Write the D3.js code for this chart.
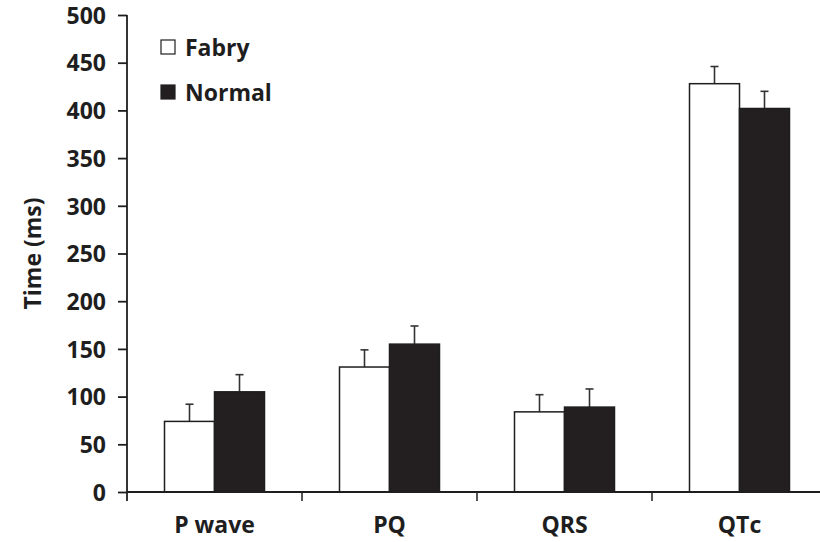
<!DOCTYPE html>
<html>
<head>
<meta charset="utf-8">
<script src="https://cdn.jsdelivr.net/npm/d3@7"></script>
<style>
  body { margin: 0; background: #fff; }
  svg text { font-family: "Open Sans", Lato, sans-serif; font-weight: 700; fill: #1e1e1e; }
</style>
</head>
<body>
<div id="chart"></div>
<script>
// values (ms)
const categories = ["P wave", "PQ", "QRS", "QTc"];
const seriesNames = ["Fabry", "Normal"];
const fabryMean = [74, 131, 84, 428];
const fabrySD = [18, 18, 18, 18];
const normalMean = [105, 155, 89, 402];
const normalSD = [18, 19, 19, 18];
const yTicks = [0, 50, 100, 150, 200, 250, 300, 350, 400, 450, 500];

const width = 820, height = 542;
const margin = {top: 15, right: -7, bottom: 50, left: 127};

const svg = d3.select("#chart").append("svg")
  .attr("width", width)
  .attr("height", height);

const x = d3.scaleBand()
  .domain(categories)
  .range([margin.left, width - margin.right])
  .paddingInner(0)
  .paddingOuter(0);

const x1 = d3.scaleBand()
  .domain(seriesNames)
  .range([0, x.bandwidth()])
  .paddingInner(0)
  .paddingOuter(0.75);

const y = d3.scaleLinear()
  .domain([0, 500])
  .range([height - margin.bottom, margin.top]);

const fills = {Fabry: "#ffffff", Normal: "#231f20"};

const rows = [];
categories.forEach((c, i) => {
  rows.push({cat: c, s: "Fabry", mean: fabryMean[i], sd: fabrySD[i]});
  rows.push({cat: c, s: "Normal", mean: normalMean[i], sd: normalSD[i]});
});

// error bars (upper only), drawn under bars
const err = svg.append("g").attr("stroke", "#333").attr("stroke-width", 1.6);
err.selectAll("line.v").data(rows).enter().append("line")
  .attr("class", "v")
  .attr("x1", d => x(d.cat) + x1(d.s) + x1.bandwidth() / 2)
  .attr("x2", d => x(d.cat) + x1(d.s) + x1.bandwidth() / 2)
  .attr("y1", d => y(d.mean))
  .attr("y2", d => y(d.mean + d.sd));
err.selectAll("line.c").data(rows).enter().append("line")
  .attr("class", "c")
  .attr("x1", d => x(d.cat) + x1(d.s) + x1.bandwidth() / 2 - 4)
  .attr("x2", d => x(d.cat) + x1(d.s) + x1.bandwidth() / 2 + 4)
  .attr("y1", d => y(d.mean + d.sd))
  .attr("y2", d => y(d.mean + d.sd));

svg.append("g").selectAll("rect").data(rows).enter().append("rect")
  .attr("x", d => x(d.cat) + x1(d.s))
  .attr("y", d => y(d.mean))
  .attr("width", x1.bandwidth())
  .attr("height", d => y(0) - y(d.mean))
  .attr("fill", d => fills[d.s])
  .attr("stroke", "#1e1e1e")
  .attr("stroke-width", 1.5);

// y axis
const yAxis = svg.append("g")
  .attr("transform", `translate(${margin.left},0)`)
  .call(d3.axisLeft(y).tickValues(yTicks).tickSize(9).tickPadding(12).tickSizeOuter(0));
yAxis.select(".domain").attr("d", `M0,${y(500)}V${y(0) + 9}`);
yAxis.selectAll("line, path").attr("stroke", "#1e1e1e").attr("stroke-width", 1.8);
yAxis.selectAll("text").style("font-size", "23px").attr("dy", "0.36em");

// x axis
const xAxis = svg.append("g")
  .attr("transform", `translate(0,${y(0)})`)
  .call(d3.axisBottom(x).tickSize(0).tickPadding(25));
xAxis.select(".domain").attr("d", `M${margin.left},0H${width}`);
xAxis.selectAll("line, path").attr("stroke", "#1e1e1e").attr("stroke-width", 1.8);
xAxis.selectAll("text").style("font-size", "23px");
xAxis.selectAll("line.sep").data(categories.slice(1)).enter().append("line")
  .attr("class", "sep")
  .attr("x1", d => x(d)).attr("x2", d => x(d))
  .attr("y1", 0).attr("y2", 9)
  .attr("stroke", "#1e1e1e").attr("stroke-width", 1.5);

// y title
svg.append("text")
  .attr("transform", `translate(41,${(y(0) + y(500)) / 2}) rotate(-90)`)
  .attr("text-anchor", "middle")
  .style("font-size", "23px")
  .text("Time (ms)");

// legend
const legend = svg.append("g").selectAll("g").data(seriesNames).enter().append("g")
  .attr("transform", (d, i) => `translate(161,${40 + i * 45})`);
legend.append("rect")
  .attr("width", 14).attr("height", 14)
  .attr("fill", d => fills[d])
  .attr("stroke", "#1e1e1e").attr("stroke-width", 1.2);
legend.append("text")
  .attr("x", 24).attr("y", 16)
  .style("font-size", "23px")
  .text(d => d);
</script>
</body>
</html>
